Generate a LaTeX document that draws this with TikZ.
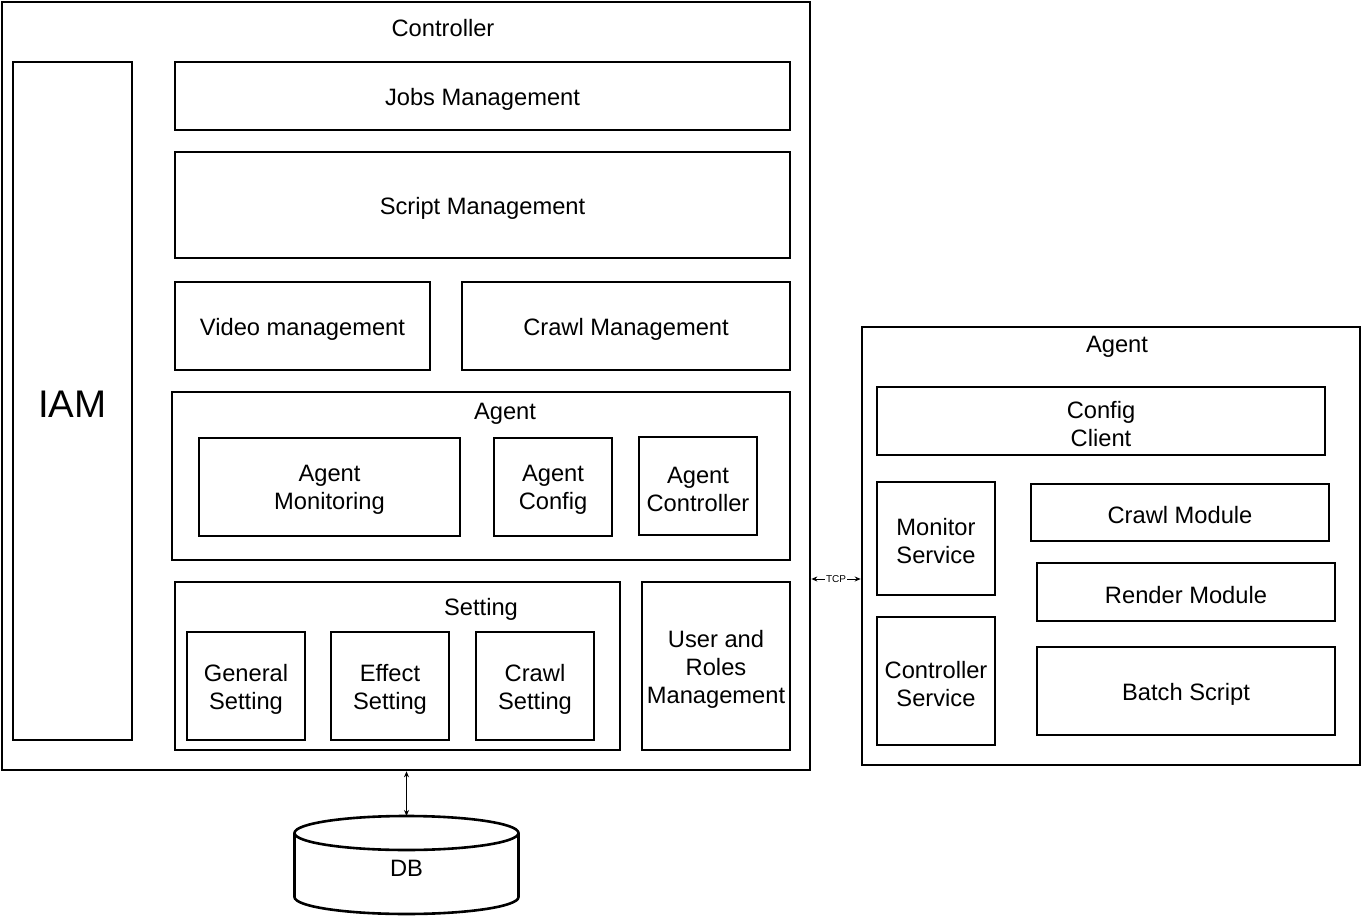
\documentclass[tikz,border=0pt]{standalone}
\usepackage{fontspec}
\setmainfont{Liberation Sans}
\usetikzlibrary{arrows.meta}
\tikzset{
  box/.style={draw, line width=2.6pt, inner sep=0pt},
  lbl/.style={inner sep=0pt, align=center, font=\fontsize{23.7}{28}\selectfont},
  conn/.style={line width=1pt, {Stealth[length=6pt,width=5pt]}-{Stealth[length=6pt,width=5pt]}},
}
\newcommand\bx[6]{\node[box, minimum width={#4-#2}, minimum height={#5-#3},
  label={[lbl, yshift=-3pt]center:#6}] (#1) at ({(#2+#4)/2},{(#3+#5)/2}) {};}
\begin{document}
\begin{tikzpicture}[x=1pt,y=-1pt]
\useasboundingbox (0,0) rectangle (1363,917);
% Controller
\bx{ctrl}{2}{2}{810}{770}{}
\node[lbl] (ctrllbl) at (443,28) {Controller};
\bx{iam}{13}{62}{132}{740}{\fontsize{38.5}{44}\selectfont IAM}
\bx{jobs}{175}{62}{790}{130}{Jobs Management}
\bx{script}{175}{152}{790}{258}{Script Management}
\bx{video}{175}{282}{430}{370}{Video management}
\bx{crawlm}{462}{282}{790}{370}{Crawl Management}
\bx{agentin}{172}{392}{790}{560}{}
\node[lbl] (agentinlbl) at (505,414) {Agent};
\bx{amon}{199}{438}{460}{536}{Agent\\Monitoring}
\bx{acfg}{494}{438}{612}{536}{Agent\\Config}
\bx{actl}{639}{437}{757}{535}{Agent\\Controller}
\bx{setting}{175}{582}{620}{750}{}
\node[lbl] (settinglbl) at (481,609) {Setting};
\bx{gen}{187}{632}{305}{740}{General\\Setting}
\bx{eff}{331}{632}{449}{740}{Effect\\Setting}
\bx{crs}{476}{632}{594}{740}{Crawl\\Setting}
\bx{user}{642}{582}{790}{750}{User and\\Roles\\Management}
% Agent right
\bx{agr}{862}{327}{1360}{765}{}
\node[lbl] (agrlbl) at (1117,347) {Agent};
\bx{cfgc}{877}{387}{1325}{455}{Config\\Client}
\bx{mons}{877}{482}{995}{595}{Monitor\\Service}
\bx{ctls}{877}{617}{995}{745}{Controller\\Service}
\bx{crmod}{1031}{484}{1329}{541}{Crawl Module}
\bx{rmod}{1037}{563}{1335}{621}{Render Module}
\bx{batch}{1037}{647}{1335}{735}{Batch Script}
% DB cylinder
\draw[line width=2.6pt] (406.5,833) ellipse [x radius=112, y radius=17];
\draw[line width=2.6pt] (294.5,833) -- (294.5,897) arc[start angle=180, end angle=0, x radius=112, y radius=17] -- (518.5,833);
\node[lbl] (db) at (406.5,868) {DB};
\coordinate (dbtop) at (406.5,816);
% connectors
\coordinate (t) at (0,579);
\draw[conn] (ctrl.east |- t) -- (agr.west |- t) node[midway, fill=white, inner sep=1pt, font=\fontsize{10}{12}\selectfont] {TCP};
\draw[conn] (ctrl.south -| dbtop) -- (dbtop);
\end{tikzpicture}
\end{document}
